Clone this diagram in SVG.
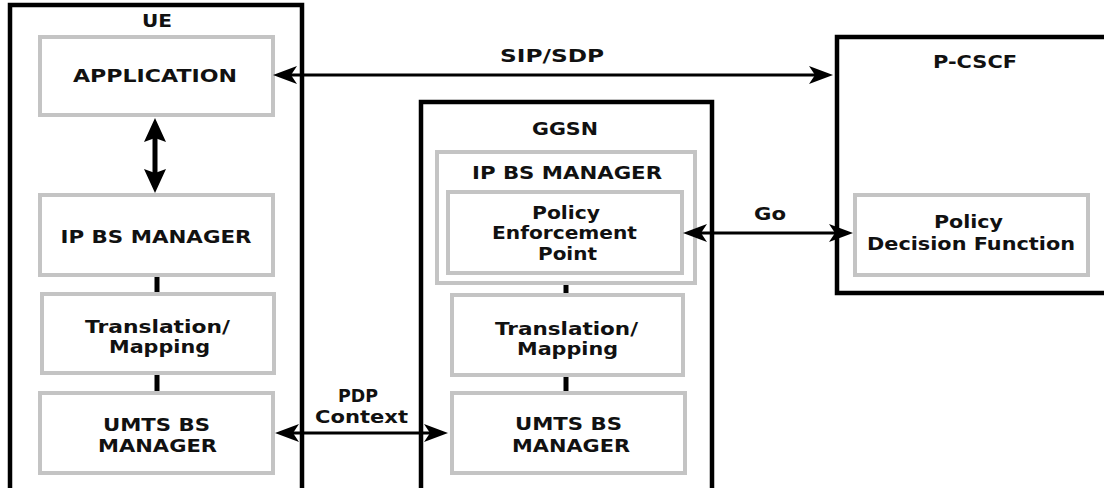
<svg xmlns="http://www.w3.org/2000/svg" width="1104" height="488" viewBox="0 0 1104 488">
<style>
.outer{fill:none;stroke:#000;stroke-width:4.5}
.inner{fill:#fff;stroke:#c4c4c4;stroke-width:4}
.t{font-family:"DejaVu Sans",Verdana,sans-serif;font-weight:bold;font-size:17px;fill:#111;text-anchor:middle}
.ln{stroke:#000;stroke-width:3;fill:none}
.thk{stroke:#000;stroke-width:5;fill:none}
</style>
<defs>
<marker id="ah" markerUnits="userSpaceOnUse" markerWidth="26" markerHeight="22" viewBox="0 -11 26 22" refX="19" refY="0" orient="auto-start-reverse"><path d="M24,0 L0,-9 L6,0 L0,9 Z" fill="#000"/></marker>
<marker id="ahb" markerUnits="userSpaceOnUse" markerWidth="26" markerHeight="26" viewBox="0 -13 26 26" refX="16" refY="0" orient="auto-start-reverse"><path d="M24,0 L0,-11 L4,0 L0,11 Z" fill="#000"/></marker>
</defs>
<rect width="1104" height="488" fill="#fff"/>

<g id="UE">
<rect class="outer" x="10" y="5" width="292" height="495"/>
<text class="t" x="157" y="27" textLength="30" lengthAdjust="spacingAndGlyphs">UE</text>
</g>
<g id="UE-APPLICATION">
<rect class="inner" x="40" y="37" width="233" height="78"/>
<text class="t" x="155" y="82" textLength="164" lengthAdjust="spacingAndGlyphs">APPLICATION</text>
</g>
<g id="UE-IPBS">
<rect class="inner" x="40" y="195" width="233" height="80"/>
<text class="t" x="156" y="243" textLength="191" lengthAdjust="spacingAndGlyphs">IP BS MANAGER</text>
</g>
<g id="UE-Translation">
<rect class="inner" x="42" y="294" width="232" height="79"/>
<text class="t" x="157.5" y="333" textLength="145" lengthAdjust="spacingAndGlyphs">Translation/</text>
<text class="t" x="159.5" y="353" textLength="101" lengthAdjust="spacingAndGlyphs">Mapping</text>
</g>
<g id="UE-UMTS">
<rect class="inner" x="40" y="393" width="233" height="80"/>
<text class="t" x="156.5" y="431" textLength="107" lengthAdjust="spacingAndGlyphs">UMTS BS</text>
<text class="t" x="157.5" y="452" textLength="119" lengthAdjust="spacingAndGlyphs">MANAGER</text>
</g>

<g id="GGSN">
<rect class="outer" x="421" y="102" width="291" height="400"/>
<text class="t" x="565" y="135" textLength="66" lengthAdjust="spacingAndGlyphs">GGSN</text>
</g>
<g id="GGSN-IPBS">
<rect class="inner" x="437" y="152" width="258" height="131"/>
<text class="t" x="567" y="179" textLength="190" lengthAdjust="spacingAndGlyphs">IP BS MANAGER</text>
</g>
<g id="GGSN-PEP">
<rect class="inner" x="448" y="192" width="234" height="81"/>
<text class="t" x="566" y="219" textLength="68" lengthAdjust="spacingAndGlyphs">Policy</text>
<text class="t" x="564.5" y="239" textLength="145" lengthAdjust="spacingAndGlyphs">Enforcement</text>
<text class="t" x="567.5" y="260" textLength="59" lengthAdjust="spacingAndGlyphs">Point</text>
</g>
<g id="GGSN-Translation">
<rect class="inner" x="452" y="295" width="231" height="80"/>
<text class="t" x="566.5" y="335" textLength="143" lengthAdjust="spacingAndGlyphs">Translation/</text>
<text class="t" x="567.5" y="355" textLength="101" lengthAdjust="spacingAndGlyphs">Mapping</text>
</g>
<g id="GGSN-UMTS">
<rect class="inner" x="452" y="393" width="233" height="80"/>
<text class="t" x="568.5" y="430" textLength="107" lengthAdjust="spacingAndGlyphs">UMTS BS</text>
<text class="t" x="571" y="452" textLength="118" lengthAdjust="spacingAndGlyphs">MANAGER</text>
</g>

<g id="PCSCF">
<rect class="outer" x="837" y="37" width="280" height="256"/>
<text class="t" x="975" y="68" textLength="84" lengthAdjust="spacingAndGlyphs">P-CSCF</text>
</g>
<g id="PCSCF-PDF">
<rect class="inner" x="855" y="195" width="233" height="80"/>
<text class="t" x="968.5" y="228" textLength="69" lengthAdjust="spacingAndGlyphs">Policy</text>
<text class="t" x="971" y="250" textLength="208" lengthAdjust="spacingAndGlyphs">Decision Function</text>
</g>

<g id="connectors">
<line class="ln" x1="278" y1="75" x2="828" y2="75" marker-start="url(#ah)" marker-end="url(#ah)"/>
<text class="t" x="552" y="62" textLength="104" lengthAdjust="spacingAndGlyphs">SIP/SDP</text>
<line class="ln" x1="688" y1="233" x2="848" y2="233" marker-start="url(#ah)" marker-end="url(#ah)"/>
<text class="t" x="770" y="220" textLength="32" lengthAdjust="spacingAndGlyphs">Go</text>
<line class="ln" x1="280" y1="433" x2="443" y2="433" marker-start="url(#ah)" marker-end="url(#ah)"/>
<text class="t" x="358" y="402" textLength="40" lengthAdjust="spacingAndGlyphs">PDP</text>
<text class="t" x="361.5" y="423" textLength="93" lengthAdjust="spacingAndGlyphs">Context</text>
<line class="thk" x1="155" y1="126" x2="155" y2="185" marker-start="url(#ahb)" marker-end="url(#ahb)"/>
<line class="thk" x1="157" y1="277" x2="157" y2="292"/>
<line class="thk" x1="157" y1="375" x2="157" y2="391"/>
<line class="thk" x1="566" y1="285" x2="566" y2="293"/>
<line class="thk" x1="566" y1="377" x2="566" y2="391"/>
</g>
</svg>
